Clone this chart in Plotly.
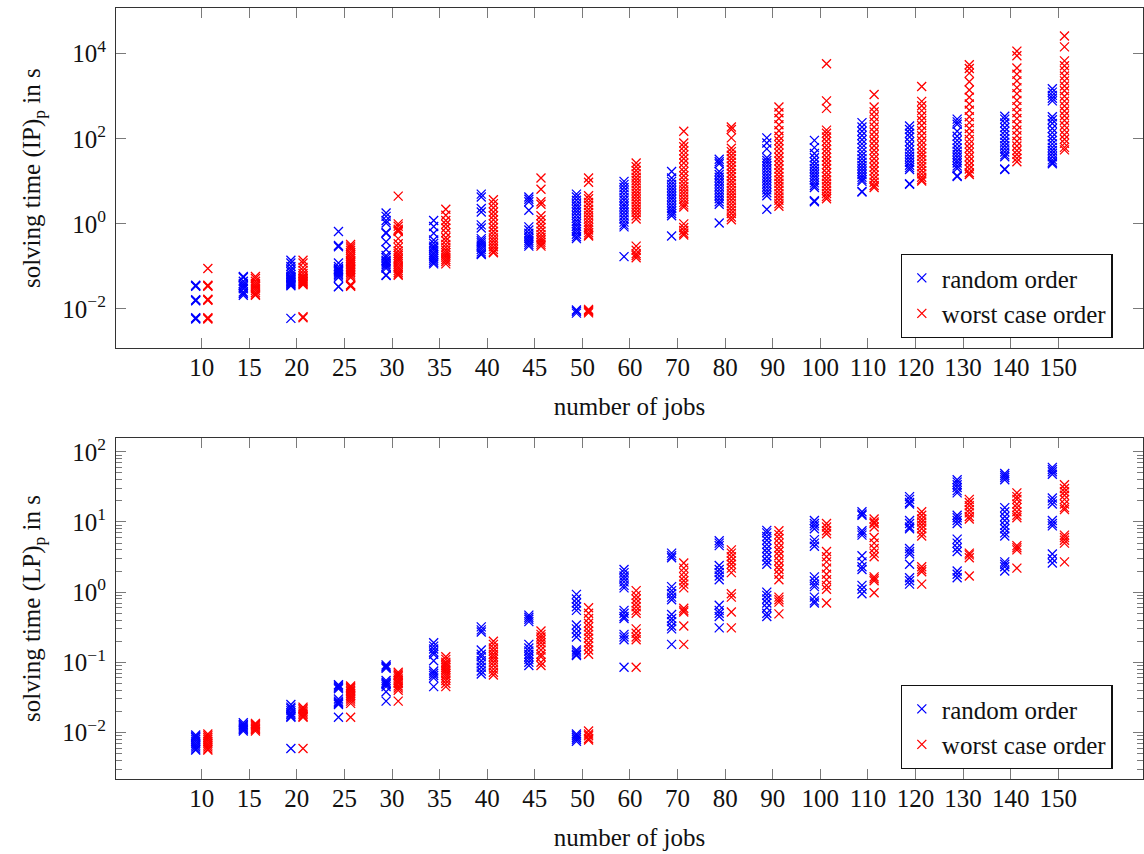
import plotly.graph_objects as go

categories = ["10", "15", "20", "25", "30", "35", "40", "45", "50", "60",
              "70", "80", "90", "100", "110", "120", "130", "140", "150"]

# solving time (IP)_p in s, random order
ip_random = [
    [0.034, 0.035, 0.036, 0.016, 0.0165, 0.0155, 0.0058, 0.006, 0.0062],
    [0.058, 0.055, 0.045, 0.040, 0.036, 0.033, 0.030, 0.025, 0.023, 0.021],
    [0.14, 0.12, 0.10, 0.085, 0.075, 0.065, 0.058, 0.055, 0.052, 0.05, 0.047, 0.045, 0.043, 0.041, 0.039, 0.037, 0.035, 0.006],
    [0.66, 0.31, 0.29, 0.12, 0.10, 0.09, 0.085, 0.08, 0.075, 0.07, 0.065, 0.06, 0.055, 0.034, 0.033],
    [1.8, 1.5, 1.2, 1.05, 0.63, 0.6, 0.38, 0.25, 0.18, 0.16, 0.14, 0.13, 0.12, 0.11, 0.1, 0.09, 0.063, 0.061],
    [1.2, 0.87, 0.6, 0.42, 0.35, 0.3, 0.27, 0.24, 0.21, 0.19, 0.17, 0.155, 0.14, 0.125, 0.115],
    [5.0, 4.3, 2.3, 1.9, 0.95, 0.8, 0.45, 0.4, 0.36, 0.32, 0.28, 0.25, 0.22, 0.2, 0.19],
    [4.3, 3.8, 3.3, 2.1, 0.85, 0.72, 0.6, 0.52, 0.46, 0.41, 0.37, 0.33, 0.3],
    [5.0, 4.3, 3.6, 3.0, 2.6, 2.2, 1.9, 1.6, 1.35, 1.15, 1.0, 0.88, 0.76, 0.66, 0.57, 0.5, 0.45, 0.0095, 0.0088, 0.008],
    [10, 8.5, 7.2, 6.0, 5.0, 4.2, 3.6, 3.0, 2.6, 2.2, 1.85, 1.55, 1.3, 1.1, 0.95, 0.85, 0.17],
    [17, 12, 10, 8.5, 7.2, 6.1, 5.2, 4.4, 3.8, 3.2, 2.7, 2.3, 2.0, 1.75, 1.55, 0.52],
    [33, 29, 26, 17, 14.5, 12.5, 10.5, 9.0, 7.6, 6.4, 5.4, 4.6, 3.9, 3.3, 2.9, 1.05],
    [105, 80, 58, 36, 31, 27, 23, 19.5, 16.5, 14, 12, 10.2, 8.7, 7.4, 6.3, 5.4, 4.6, 2.2],
    [92, 62, 45, 36, 29, 24, 20, 17, 14.5, 12.5, 10.7, 9.2, 8.0, 7.2, 3.5, 3.3],
    [240, 190, 150, 120, 95, 76, 62, 50, 41, 34, 28, 23.5, 20, 17, 14.5, 12.5, 11, 10, 5.8, 5.6],
    [200, 165, 135, 110, 85, 68, 55, 46, 39, 33, 28, 24, 21, 19, 8.8, 8.5],
    [290, 250, 220, 150, 115, 92, 75, 61, 51, 43, 37, 31, 27, 23, 20, 13.5, 13],
    [340, 290, 235, 185, 150, 122, 100, 83, 69, 58, 49, 42, 38, 19.5, 19],
    [1500, 1250, 1050, 900, 780, 330, 280, 230, 175, 140, 112, 92, 76, 63, 53, 45, 38, 32, 28, 26],
]

# solving time (IP)_p in s, worst case order
ip_worst = [
    [0.089, 0.034, 0.035, 0.036, 0.016, 0.0165, 0.017, 0.0058, 0.006, 0.0062],
    [0.058, 0.052, 0.045, 0.040, 0.036, 0.033, 0.030, 0.027, 0.024, 0.022, 0.021],
    [0.14, 0.12, 0.095, 0.08, 0.068, 0.06, 0.056, 0.052, 0.05, 0.047, 0.045, 0.043, 0.041, 0.039, 0.037, 0.0062, 0.0066],
    [0.33, 0.3, 0.27, 0.24, 0.21, 0.19, 0.17, 0.155, 0.14, 0.13, 0.12, 0.11, 0.1, 0.092, 0.085, 0.078, 0.072, 0.066, 0.06, 0.055, 0.037, 0.035, 0.034],
    [4.5, 1.0, 0.88, 0.75, 0.7, 0.66, 0.45, 0.34, 0.28, 0.23, 0.2, 0.18, 0.16, 0.145, 0.13, 0.115, 0.1, 0.09, 0.08, 0.072, 0.066, 0.062],
    [2.2, 1.6, 1.2, 0.98, 0.8, 0.62, 0.48, 0.4, 0.33, 0.28, 0.24, 0.21, 0.185, 0.165, 0.145, 0.13, 0.115],
    [3.7, 3.0, 2.4, 1.9, 1.55, 1.25, 1.0, 0.82, 0.67, 0.56, 0.47, 0.4, 0.34, 0.29, 0.25, 0.22, 0.21],
    [12, 6.5, 3.3, 2.9, 1.55, 1.25, 1.0, 0.82, 0.67, 0.56, 0.48, 0.42, 0.37, 0.33, 0.3],
    [12, 9.5, 4.6, 3.9, 3.2, 2.7, 2.2, 1.85, 1.55, 1.3, 1.1, 0.95, 0.82, 0.72, 0.62, 0.55, 0.52, 0.0098, 0.0092, 0.0086, 0.0081],
    [27, 22, 18, 15, 12.5, 10.5, 8.8, 7.4, 6.2, 5.2, 4.4, 3.7, 3.1, 2.6, 2.2, 1.85, 1.55, 1.3, 0.3, 0.24, 0.2, 0.18, 0.16],
    [150, 80, 65, 52, 42, 34, 27, 21, 17, 13.5, 11, 9, 7.5, 6.3, 5.3, 4.5, 3.8, 3.2, 2.8, 2.5, 1.0, 0.82, 0.7, 0.6, 0.55],
    [190, 165, 105, 60, 50, 41, 34, 28, 23, 19, 15.5, 12.8, 10.5, 8.8, 7.3, 6.1, 5.1, 4.3, 3.6, 3.0, 2.5, 2.1, 1.75, 1.45, 1.25],
    [560, 410, 300, 215, 155, 115, 90, 72, 58, 46, 37, 30, 24, 19.5, 16, 13, 10.8, 9.0, 7.5, 6.2, 5.1, 4.3, 3.6, 3.0, 2.6],
    [5800, 780, 520, 160, 135, 110, 88, 70, 57, 46, 37, 30, 24.5, 20, 16, 13, 10.8, 9, 7.5, 6.2, 5.2, 4.4, 3.9],
    [1100, 560, 430, 330, 250, 190, 145, 112, 88, 69, 54, 43, 34, 27, 21.5, 17.5, 14, 11.5, 9.5, 8.0, 7.2],
    [1700, 760, 600, 460, 350, 270, 205, 155, 118, 90, 72, 58, 47, 39, 32, 26.5, 22, 18, 15, 12.5, 11, 10.2],
    [5500, 4500, 3500, 2200, 1400, 950, 660, 470, 330, 240, 175, 130, 97, 76, 60, 48, 38, 30, 24, 19.5, 16, 14.5],
    [11500, 9000, 4600, 3300, 2300, 1600, 1150, 800, 570, 410, 300, 215, 160, 118, 88, 68, 53, 43, 35, 29],
    [26000, 14500, 6800, 5200, 4000, 3000, 2300, 1750, 1350, 1000, 770, 590, 450, 350, 270, 205, 160, 125, 98, 78, 63, 55],
]

# solving time (LP)_p in s, random order
lp_random = [
    [0.0092, 0.0088, 0.0085, 0.008, 0.0075, 0.007, 0.0066, 0.0062, 0.0058, 0.0056],
    [0.0138, 0.013, 0.0125, 0.012, 0.0115, 0.011, 0.0105],
    [0.025, 0.023, 0.022, 0.0205, 0.019, 0.018, 0.017, 0.0165, 0.0059],
    [0.048, 0.046, 0.044, 0.042, 0.03, 0.028, 0.027, 0.026, 0.025, 0.0165],
    [0.092, 0.088, 0.085, 0.082, 0.055, 0.052, 0.05, 0.048, 0.045, 0.038, 0.028],
    [0.19, 0.17, 0.155, 0.14, 0.13, 0.105, 0.075, 0.07, 0.065, 0.06, 0.045],
    [0.32, 0.29, 0.27, 0.15, 0.13, 0.12, 0.105, 0.095, 0.085, 0.075, 0.068],
    [0.47, 0.44, 0.41, 0.38, 0.18, 0.16, 0.145, 0.13, 0.12, 0.11, 0.1, 0.09],
    [0.93, 0.8, 0.7, 0.62, 0.55, 0.34, 0.3, 0.26, 0.23, 0.15, 0.14, 0.13, 0.125, 0.0095, 0.009, 0.0085, 0.008, 0.0075],
    [2.1, 1.9, 1.7, 1.55, 1.4, 1.25, 1.15, 0.55, 0.5, 0.45, 0.42, 0.25, 0.23, 0.21, 0.085],
    [3.6, 3.3, 3.1, 1.2, 1.05, 0.95, 0.85, 0.78, 0.48, 0.42, 0.38, 0.33, 0.3, 0.18],
    [5.4, 5.0, 4.6, 2.4, 2.1, 1.9, 1.7, 1.5, 0.65, 0.55, 0.5, 0.45, 0.31],
    [7.6, 7.0, 6.2, 5.5, 4.8, 4.2, 3.7, 3.2, 2.8, 2.5, 1.0, 0.9, 0.8, 0.7, 0.6, 0.5, 0.45],
    [10.5, 9.5, 8.8, 8.0, 5.6, 5.0, 4.5, 1.65, 1.45, 1.3, 1.2, 0.85, 0.75, 0.7],
    [14, 13, 12.5, 7.5, 7.0, 6.5, 3.3, 2.7, 2.3, 2.1, 1.25, 1.1, 0.95],
    [23, 21, 19, 18, 10.5, 9.5, 8.5, 8.0, 4.2, 3.8, 3.5, 2.5, 1.6, 1.45, 1.3],
    [40, 37, 34, 31, 28, 26, 12.5, 11.5, 10.5, 9.5, 5.7, 5.0, 4.3, 3.8, 2.0, 1.8, 1.6],
    [49, 46, 43, 40, 16, 14, 12, 10.5, 9.0, 8.0, 7.0, 6.3, 2.7, 2.5, 2.3, 2.0],
    [60, 56, 52, 48, 22, 20, 18, 10.5, 9.5, 8.8, 3.5, 3.0, 2.6],
]

# solving time (LP)_p in s, worst case order
lp_worst = [
    [0.0095, 0.009, 0.0085, 0.008, 0.0075, 0.007, 0.0066, 0.0062, 0.0058, 0.0056],
    [0.0135, 0.013, 0.0125, 0.012, 0.0115, 0.011, 0.0105],
    [0.023, 0.022, 0.021, 0.02, 0.019, 0.018, 0.017, 0.0165, 0.0059],
    [0.046, 0.044, 0.042, 0.04, 0.038, 0.036, 0.034, 0.032, 0.03, 0.028, 0.026, 0.0165],
    [0.072, 0.068, 0.065, 0.062, 0.058, 0.055, 0.052, 0.05, 0.046, 0.043, 0.04, 0.028],
    [0.12, 0.11, 0.1, 0.095, 0.09, 0.085, 0.08, 0.075, 0.07, 0.065, 0.06, 0.055, 0.05, 0.045],
    [0.2, 0.18, 0.16, 0.145, 0.13, 0.12, 0.11, 0.1, 0.09, 0.08, 0.072, 0.066],
    [0.28, 0.25, 0.23, 0.21, 0.19, 0.17, 0.15, 0.13, 0.12, 0.1, 0.09],
    [0.6, 0.5, 0.42, 0.36, 0.32, 0.28, 0.25, 0.22, 0.19, 0.17, 0.15, 0.13, 0.0105, 0.0095, 0.009, 0.0082, 0.0078],
    [1.05, 0.9, 0.8, 0.7, 0.62, 0.55, 0.5, 0.3, 0.26, 0.23, 0.21, 0.085],
    [2.6, 2.2, 1.9, 1.65, 1.45, 1.3, 1.15, 0.59, 0.55, 0.52, 0.33, 0.18],
    [4.0, 3.6, 3.2, 2.8, 2.5, 2.2, 1.9, 0.95, 0.85, 0.52, 0.31],
    [7.5, 6.6, 5.8, 5.0, 4.3, 3.8, 3.3, 2.8, 2.4, 2.1, 1.8, 1.5, 0.85, 0.78, 0.72, 0.49],
    [9.5, 8.5, 7.5, 6.8, 3.8, 3.2, 2.7, 2.2, 1.8, 1.5, 1.25, 1.1, 0.7],
    [11, 10, 9.5, 8.5, 6.0, 5.0, 4.2, 3.6, 3.2, 1.65, 1.55, 1.45, 0.98],
    [14, 12.5, 11, 10, 9, 8, 7, 6.3, 2.3, 2.1, 1.95, 1.3],
    [21, 19, 17, 15, 13.5, 12, 11, 3.6, 3.4, 3.1, 1.7],
    [26, 23, 21, 18, 16, 14, 12.5, 11.5, 4.6, 4.3, 4.0, 2.2],
    [34, 30, 27, 24, 21, 18, 16, 15, 6.5, 6.0, 5.5, 5.0, 2.7],
]

ip_ticks = [1e-2, 1e0, 1e2, 1e4]
ip_ticktext = ["10<sup>−2</sup>", "10<sup>0</sup>", "10<sup>2</sup>", "10<sup>4</sup>"]
lp_ticks = [1e-2, 1e-1, 1e0, 1e1, 1e2]
lp_ticktext = ["10<sup>−2</sup>", "10<sup>−1</sup>", "10<sup>0</sup>", "10<sup>1</sup>", "10<sup>2</sup>"]

BLUE = "#0000ff"
RED = "#ff0000"
FONT = "Liberation Serif"
FS = 25
AXIS_COLOR = "#333333"
TICK_COLOR = "#7a7a7a"
TEXT_COLOR = "#111111"


def scatter(groups, offset, color, name, xa, ya, legend):
    xs, ys = [], []
    for i, vals in enumerate(groups):
        for v in vals:
            xs.append(i + offset)
            ys.append(v)
    return go.Scatter(
        x=xs, y=ys, mode="markers", name=name, xaxis=xa, yaxis=ya,
        legend=legend, showlegend=True,
        marker=dict(symbol="x-thin", size=9, color=color,
                    line=dict(color=color, width=1.3)),
    )


fig = go.Figure()
fig.add_trace(scatter(ip_random, -0.125, BLUE, "random order", "x", "y", "legend"))
fig.add_trace(scatter(ip_worst, 0.13, RED, "worst case order", "x", "y", "legend"))
fig.add_trace(scatter(lp_random, -0.125, BLUE, "random order", "x2", "y2", "legend2"))
fig.add_trace(scatter(lp_worst, 0.13, RED, "worst case order", "x2", "y2", "legend2"))

tfont = dict(family=FONT, size=FS, color=TEXT_COLOR)

xcommon = dict(
    range=[-1.80, 19.78], tickmode="array", tickvals=list(range(len(categories))),
    ticktext=categories, ticks="inside", ticklen=10, tickwidth=1,
    tickcolor=TICK_COLOR, showline=True, linecolor=AXIS_COLOR, linewidth=1.2,
    mirror="ticks", showgrid=False, zeroline=False,
    tickfont=tfont, ticklabelstandoff=-3,
)
ycommon = dict(
    type="log", tickmode="array", ticks="inside", ticklen=10, tickwidth=1,
    tickcolor=TICK_COLOR, showline=True, linecolor=AXIS_COLOR, linewidth=1.2,
    mirror="ticks", showgrid=False, zeroline=False, tickfont=tfont,
    ticklabelstandoff=4,
)

minor_vals = [k * 10.0 ** e for e in range(-3, 3) for k in range(2, 10)]

legend_common = dict(xanchor="left", yanchor="top", bgcolor="white",
                     bordercolor=TEXT_COLOR, borderwidth=1.2, font=tfont,
                     itemwidth=30, tracegroupgap=0)

fig.update_layout(
    width=1144, height=854,
    margin=dict(l=116, r=1, t=8, b=75),
    paper_bgcolor="white", plot_bgcolor="white",
    font=tfont,
    xaxis=dict(**xcommon, domain=[0, 1], anchor="y",
               title=dict(text="number of jobs", standoff=17, font=tfont)),
    yaxis=dict(**ycommon, domain=[0.5586, 1.0], anchor="x",
               range=[-2.925, 5.075], tickvals=ip_ticks, ticktext=ip_ticktext,
               title=dict(text="solving time (IP)<sub>p</sub> in s", standoff=14,
                          font=tfont)),
    xaxis2=dict(**xcommon, domain=[0, 1], anchor="y2",
                title=dict(text="number of jobs", standoff=17, font=tfont)),
    yaxis2=dict(**ycommon, domain=[0.0, 0.4423], anchor="x2",
                range=[-2.663, 2.197], tickvals=lp_ticks, ticktext=lp_ticktext,
                minor=dict(tickmode="array", tickvals=minor_vals, ticks="inside",
                           ticklen=6, tickwidth=1, tickcolor=TICK_COLOR,
                           showgrid=False),
                title=dict(text="solving time (LP)<sub>p</sub> in s", standoff=14,
                           font=tfont)),
    legend=dict(**legend_common, x=0.764, y=0.681),
    legend2=dict(**legend_common, x=0.764, y=0.122),
)

fig.write_html("out.html")
